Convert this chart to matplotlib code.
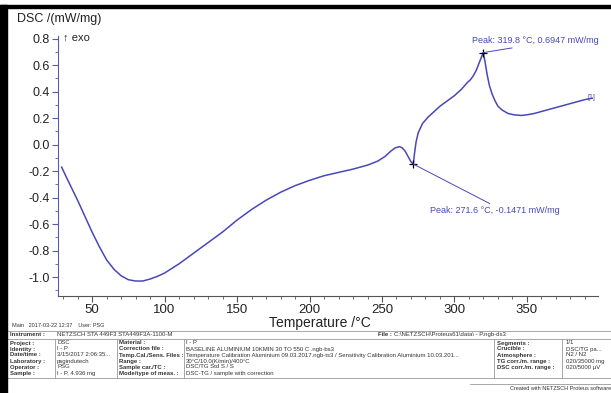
import matplotlib
matplotlib.use("Agg")
import matplotlib.pyplot as plt
from matplotlib.ticker import MultipleLocator
from matplotlib.lines import Line2D
from matplotlib.patches import Rectangle

plt.rcParams["font.family"] = ["Liberation Sans", "DejaVu Sans"]

# DSC curve
temp = [29, 32, 36, 40, 45, 50, 55, 60, 65, 70, 75, 80, 85, 90, 95, 100,
        110, 120, 130, 140, 150, 160, 170, 180, 190, 200, 210, 220, 230, 240,
        247, 252, 256, 259, 262, 264, 266, 268, 270, 271.6, 272.5, 273.5, 275,
        278, 282, 286, 290, 295, 300, 305, 309, 311, 313, 315, 317.5, 319.8,
        321, 322.5, 324, 326, 328, 330, 333, 337, 341, 346, 350, 355, 360,
        365, 370, 375, 380, 385, 390, 395]
dsc = [-0.17, -0.24, -0.33, -0.42, -0.54, -0.66, -0.77, -0.87, -0.94, -0.99,
       -1.02, -1.03, -1.03, -1.015, -0.995, -0.97, -0.90, -0.82, -0.74, -0.66,
       -0.57, -0.49, -0.42, -0.36, -0.31, -0.27, -0.235, -0.21, -0.185, -0.155,
       -0.125, -0.09, -0.05, -0.025, -0.015, -0.025, -0.05, -0.09, -0.13,
       -0.147, -0.06, 0.02, 0.09, 0.16, 0.21, 0.25, 0.29, 0.33, 0.37, 0.42,
       0.47, 0.49, 0.52, 0.56, 0.63, 0.6947, 0.63, 0.53, 0.45, 0.38, 0.33,
       0.29, 0.26, 0.235, 0.225, 0.22, 0.225, 0.235, 0.25, 0.265, 0.28, 0.295,
       0.31, 0.325, 0.34, 0.35]

peaks_t = [319.8, 271.6]
peaks_v = [0.6947, -0.1471]
peak_labels = ["Peak: 319.8 °C, 0.6947 mW/mg", "Peak: 271.6 °C, -0.1471 mW/mg"]

blue = "#4848b8"
W, H = 611, 393


def fx(px):
    return px / W


def fy(py):
    return 1 - py / H


fig = plt.figure(figsize=(6.11, 3.93), dpi=100)
ax = fig.add_axes([fx(58), fy(296), fx(598) - fx(58), fy(36) - fy(296)])

ax.plot(temp, dsc, color=blue, lw=1.1)
ax.plot(peaks_t, peaks_v, "+", color="black", ms=6, mew=0.9)

ax.annotate(peak_labels[0], xy=(peaks_t[0], peaks_v[0]), xytext=(356, 0.785),
            fontsize=6.5, color=blue, ha="center", va="center",
            arrowprops=dict(arrowstyle="-", color=blue, lw=0.7, shrinkA=0, shrinkB=0,
                            relpos=(0.45, 0.0)))
ax.annotate(peak_labels[1], xy=(peaks_t[1], peaks_v[1]), xytext=(328, -0.50),
            fontsize=6.5, color=blue, ha="center", va="center",
            arrowprops=dict(arrowstyle="-", color=blue, lw=0.7, shrinkA=0, shrinkB=0,
                            relpos=(0.5, 1.0)))
ax.text(392, 0.355, "[1]", fontsize=5, color=blue, ha="left", va="center")

ax.set_xlim(26.5, 399)
ax.set_ylim(-1.143, 0.82)
ax.xaxis.set_major_locator(MultipleLocator(50))
ax.xaxis.set_minor_locator(MultipleLocator(10))
ax.yaxis.set_major_locator(MultipleLocator(0.2))
ax.yaxis.set_minor_locator(MultipleLocator(0.1))
ax.yaxis.set_major_formatter(plt.FuncFormatter(lambda v, p: f"{v:.1f}"))
for s in ["top", "right"]:
    ax.spines[s].set_visible(False)
ax.spines["left"].set_color("#5a5ab0")
ax.spines["bottom"].set_color("#555555")
ax.tick_params(axis="x", which="major", length=4, color="#555555", labelsize=9.5,
               labelcolor="#222222", pad=1.5)
ax.tick_params(axis="x", which="minor", length=2, color="#555555")
ax.tick_params(axis="y", which="major", length=4, color="#5a5ab0", labelsize=9,
               labelcolor="#222222", pad=2)
ax.tick_params(axis="y", which="minor", length=2, color="#5a5ab0")
ax.set_xlabel("Temperature /°C", fontsize=10, color="#222222")
ax.xaxis.set_label_coords((320 - 58) / (598 - 58), -(322.5 - 296) / (296 - 36), transform=ax.transAxes)
ax.xaxis.label.set_va("center")

fig.text(fx(17), fy(19), "DSC /(mW/mg)", fontsize=9, va="center", color="#222222")
fig.text(fx(63), fy(37), "↑ exo", fontsize=8, va="center", color="#222222")

# black frame at left and top
fig.patches.append(Rectangle((0, fy(393)), fx(7), fy(5) - fy(393), transform=fig.transFigure,
                             color="black", zorder=5))
fig.patches.append(Rectangle((0, fy(8)), 1, fy(5) - fy(8), transform=fig.transFigure,
                             color="black", zorder=5))

# info table
grey = "#333333"
lc = "#999999"
fs = 4.3
fig.text(fx(12), fy(325.5), "Main   2017-03-22 12:37    User: PSG", fontsize=4, color=grey, va="center")


def hline(py, x0=7, x1=611):
    fig.add_artist(Line2D([fx(x0), fx(x1)], [fy(py), fy(py)], color=lc, lw=0.6))


def vline(px, y0, y1):
    fig.add_artist(Line2D([fx(px), fx(px)], [fy(y0), fy(y1)], color=lc, lw=0.6))


hline(330.5)
hline(339)
hline(378)
hline(384, 470, 611)
for px in [55, 117, 184, 494, 562]:
    vline(px, 339, 378)

fig.text(fx(10), fy(334.7), "Instrument :", fontsize=fs, weight="bold", color=grey, va="center")
fig.text(fx(57), fy(334.7), "NETZSCH STA 449F3 STA449F3A-1100-M", fontsize=fs, color=grey, va="center")
fig.text(fx(378), fy(334.7), "File :", fontsize=fs, weight="bold", color=grey, va="center")
fig.text(fx(394), fy(334.7), "C:\\NETZSCH\\Proteus61\\data\\ - P.ngb-ds3", fontsize=fs, color=grey, va="center")

labels_a = ["Project :", "Identity :", "Date/time :", "Laboratory :", "Operator :", "Sample :"]
values_a = ["DSC", "I - P", "3/15/2017 2:06:35...", "psgindutech", "PSG", "I - P, 4.936 mg"]
labels_b = ["Material :", "Correction file :", "Temp.Cal./Sens. Files :", "Range :",
            "Sample car./TC :", "Mode/type of meas. :"]
values_b = ["I - P", "BASELINE ALUMINIUM 10KMIN 30 TO 550 C .ngb-bs3",
            "Temperature Calibration Aluminium 09.03.2017.ngb-ts3 / Sensitivity Calibration Aluminium 10.03.201...",
            "30°C/10.0(K/min)/400°C", "DSC/TG Std S / S", "DSC-TG / sample with correction"]
labels_c = ["Segments :", "Crucible :", "Atmosphere :", "TG corr./m. range :", "DSC corr./m. range :"]
values_c = ["1/1", "DSC/TG pa...", "N2 / N2", "020/35000 mg", "020/5000 µV"]

row_y = [343, 349, 355, 361, 367, 373]
for i, py in enumerate(row_y):
    fig.text(fx(10), fy(py), labels_a[i], fontsize=fs, weight="bold", color=grey, va="center")
    fig.text(fx(57), fy(py), values_a[i], fontsize=fs, color=grey, va="center")
    fig.text(fx(119), fy(py), labels_b[i], fontsize=fs, weight="bold", color=grey, va="center")
    fig.text(fx(186), fy(py), values_b[i], fontsize=fs, color=grey, va="center")
    if i < len(labels_c):
        fig.text(fx(497), fy(py), labels_c[i], fontsize=fs, weight="bold", color=grey, va="center")
        fig.text(fx(566), fy(py), values_c[i], fontsize=fs, color=grey, va="center")

fig.text(fx(611), fy(389), "Created with NETZSCH Proteus software", fontsize=4, color=grey,
         va="center", ha="right")

fig.savefig("out.png", dpi=100)
